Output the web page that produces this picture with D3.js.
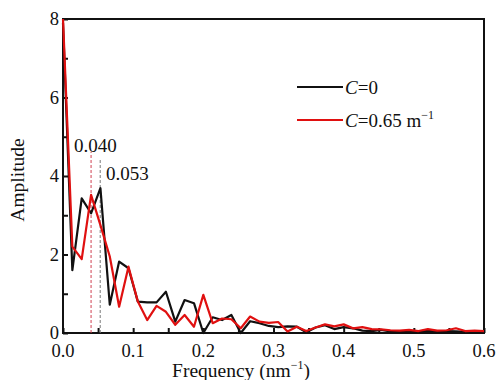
<!DOCTYPE html>
<html>
<head>
<meta charset="utf-8">
<script src="https://d3js.org/d3.v7.min.js"></script>
<style>
body{margin:0;background:#fff;}
svg text{font-family:"Liberation Serif","Times New Roman","DejaVu Serif",serif;}
</style>
</head>
<body>
<svg id="chart" width="497" height="380"></svg>
<script>
// sample spacing is 1/75 nm^-1, k = 0..45
const step = 0.6/45;
const ampC0 = [7.9,1.6,3.43,3.05,3.69,0.72,1.82,1.65,0.8,0.78,0.78,1.05,0.29,0.84,0.76,0.0,0.4,0.33,0.46,0.0,
  0.3,0.25,0.18,0.15,0.17,0.16,0.02,0.14,0.2,0.1,0.15,0.12,0.06,0.05,0.08,0.04,0.05,0.03,0.04,0.06,
  0.03,0.05,0.04,0.03,0.03,0.03];
const ampC065 = [8.0,2.2,1.88,3.52,2.75,1.95,0.67,1.69,0.8,0.33,0.69,0.54,0.21,0.46,0.16,0.97,0.25,0.37,0.35,0.12,
  0.42,0.29,0.26,0.28,0.04,0.16,0.05,0.14,0.22,0.17,0.22,0.12,0.15,0.1,0.09,0.07,0.06,0.08,0.05,0.1,
  0.06,0.07,0.12,0.05,0.06,0.05];
const xTickLabels = ["0.0","0.1","0.2","0.3","0.4","0.5","0.6"];
const yTickLabels = ["0","2","4","6","8"];
const peakFreqs = [0.040,0.053];
const peakLabels = ["0.040","0.053"];

const svg = d3.select("#chart");
const x = d3.scaleLinear().domain([0,0.6]).range([63,484]);
const y = d3.scaleLinear().domain([0,8]).range([333,19]);

// frame
svg.append("rect").attr("x",63).attr("y",19).attr("width",421).attr("height",314)
  .attr("fill","none").attr("stroke","#111").attr("stroke-width",2);

// x axis ticks (inward)
const xAxis = d3.axisBottom(x).tickValues(d3.range(0,0.6001,0.05)).tickSize(-5).tickFormat("");
svg.append("g").attr("transform","translate(0,333)").call(xAxis)
  .call(g=>g.select(".domain").remove())
  .call(g=>g.selectAll("line").attr("stroke","#111").attr("stroke-width",2));
svg.append("g").selectAll("text").data(xTickLabels).join("text")
  .attr("x",d=>x(+d)).attr("y",357).attr("text-anchor","middle")
  .attr("font-size",18.5).attr("fill","#111").text(d=>d);

// y axis ticks (inward)
const yAxis = d3.axisLeft(y).tickValues(d3.range(0,9,1)).tickSize(-5).tickFormat("");
svg.append("g").attr("transform","translate(63,0)").call(yAxis)
  .call(g=>g.select(".domain").remove())
  .call(g=>g.selectAll("line").attr("stroke","#111").attr("stroke-width",2));
svg.append("g").selectAll("text").data(yTickLabels).join("text")
  .attr("x",59).attr("y",d=>y(+d)+6).attr("text-anchor","end")
  .attr("font-size",18.5).attr("fill","#111").text(d=>d);

// axis titles
svg.append("text").attr("x",241).attr("y",377).attr("text-anchor","middle")
  .attr("font-size",19.5).attr("fill","#111")
  .html('Frequency (nm<tspan dy="-8" font-size="12">\u22121</tspan><tspan dy="8">)</tspan>');
svg.append("text").attr("transform","translate(24,180) rotate(-90)").attr("text-anchor","middle")
  .attr("font-size",19.5).attr("fill","#111").text("Amplitude");

// dashed peak markers
svg.append("line").attr("x1",x(peakFreqs[0])).attr("x2",x(peakFreqs[0])).attr("y1",333).attr("y2",152)
  .attr("stroke","#d04050").attr("stroke-width",1).attr("stroke-dasharray","3,2");
svg.append("line").attr("x1",x(peakFreqs[1])).attr("x2",x(peakFreqs[1])).attr("y1",333).attr("y2",160)
  .attr("stroke","#777").attr("stroke-width",1).attr("stroke-dasharray","3,2");
svg.append("text").attr("x",74).attr("y",152).attr("font-size",19).attr("fill","#111").text(peakLabels[0]);
svg.append("text").attr("x",106).attr("y",180).attr("font-size",19).attr("fill","#111").text(peakLabels[1]);

// data lines
const line = d3.line().x((d,i)=>x(i*step)).y(d=>y(d));
svg.append("path").datum(ampC0).attr("d",line).attr("fill","none")
  .attr("stroke","#111").attr("stroke-width",2.2).attr("stroke-linejoin","round");
svg.append("path").datum(ampC065).attr("d",line).attr("fill","none")
  .attr("stroke","#e01010").attr("stroke-width",2.2).attr("stroke-linejoin","round");

// legend
const leg = svg.append("g");
leg.append("line").attr("x1",297).attr("x2",343).attr("y1",87).attr("y2",87).attr("stroke","#111").attr("stroke-width",2.2);
leg.append("line").attr("x1",297).attr("x2",343).attr("y1",120).attr("y2",120).attr("stroke","#e01010").attr("stroke-width",2.2);
leg.append("text").attr("x",345).attr("y",94).attr("font-size",19).attr("fill","#111")
  .html('<tspan font-style="italic">C</tspan>=0');
leg.append("text").attr("x",345).attr("y",127).attr("font-size",19).attr("fill","#111")
  .html('<tspan font-style="italic">C</tspan>=0.65 m<tspan dy="-8" font-size="12">\u22121</tspan>');
</script>
</body>
</html>
